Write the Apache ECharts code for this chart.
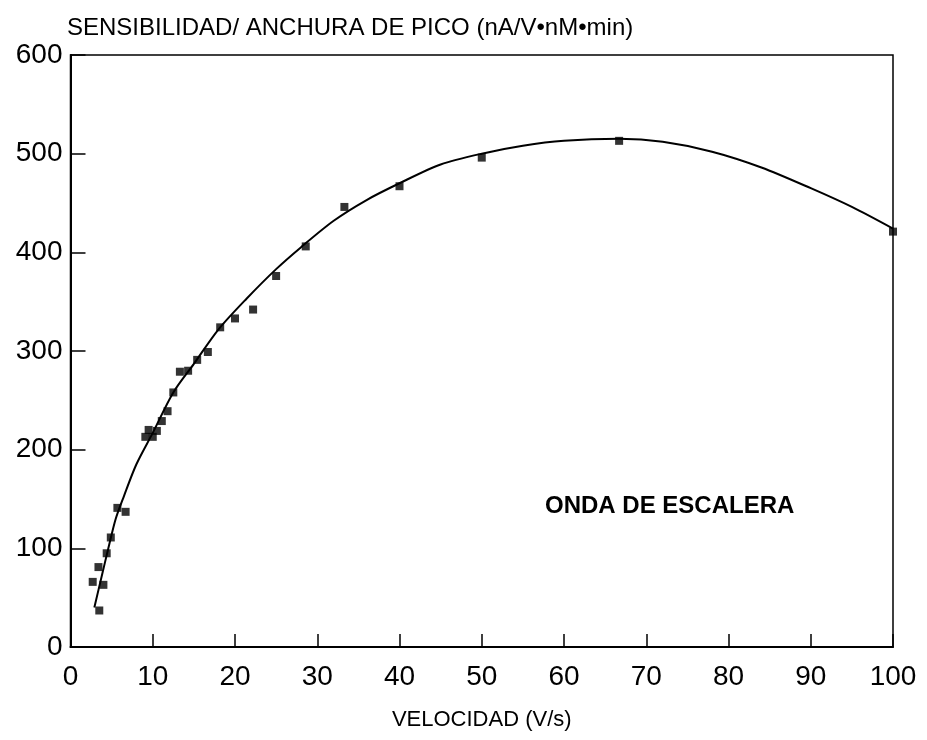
<!DOCTYPE html>
<html>
<head>
<meta charset="utf-8">
<script src="https://cdn.jsdelivr.net/npm/echarts@6/dist/echarts.min.js"></script>
<style>
  html, body { margin: 0; padding: 0; background: #fff; }
  #chart { width: 927px; height: 740px; }
</style>
</head>
<body>
<div id="chart"></div>
<script>
// Measured points: sweep rate (V/s) vs sensitivity / peak width
const velocidad = [100, 66.7, 50, 40, 33.3, 28.6, 25, 22.2, 20, 18.2, 16.7, 15.4, 14.3, 13.3,
                   12.5, 11.8, 11.1, 10.5, 10.0, 9.5, 9.1, 6.7, 5.7, 4.9, 4.4, 3.4, 4.0, 2.7, 3.5];
const sensibilidad = [421, 513, 496, 467, 446, 406, 376, 342, 333, 324, 299, 291, 280, 279,
                      258, 239, 229, 219, 213, 220, 213, 137, 141, 111, 95, 81, 63, 66, 37];

// Fitted trend curve
const curvaX = [2.9, 3.8, 4.6, 5.5, 6.5, 8, 10, 12.5, 15, 18, 21.4, 25, 28, 32, 36, 40, 45, 50,
                55, 60, 66.7, 72, 78, 84, 90, 95, 100];
const curvaY = [40, 72, 100, 130, 153, 185, 217, 258, 287, 322, 353, 383, 405, 432, 453, 470, 489, 500,
                508, 513, 515, 512, 502, 486, 465, 446, 424];

const xTicks = [0, 10, 20, 30, 40, 50, 60, 70, 80, 90, 100];
const yTicks = [0, 100, 200, 300, 400, 500, 600];

const FONT = '"Liberation Sans", Arial, Helvetica, sans-serif';

const chart = echarts.init(document.getElementById('chart'), null, { renderer: 'canvas' });

chart.setOption({
  backgroundColor: '#ffffff',
  animation: false,
  title: {
    text: 'SENSIBILIDAD/ ANCHURA DE PICO (nA/V•nM•min)',
    left: 62,
    top: 11,
    textStyle: { fontFamily: FONT, fontSize: 24, fontWeight: 'normal', color: '#000' }
  },
  grid: {
    left: 70.5, right: 34, top: 55, bottom: 93,
    show: true, borderColor: '#000', borderWidth: 1.5, backgroundColor: 'transparent'
  },
  xAxis: {
    type: 'value',
    min: xTicks[0], max: xTicks[xTicks.length - 1], interval: 10,
    name: 'VELOCIDAD (V/s)',
    nameLocation: 'middle',
    nameGap: 62,
    nameTextStyle: { fontFamily: FONT, fontSize: 22, color: '#000' },
    axisLine: { show: true, lineStyle: { color: '#000', width: 2 } },
    axisTick: { show: true, inside: true, length: 13, lineStyle: { color: '#000', width: 1.5 } },
    axisLabel: { fontFamily: FONT, fontSize: 28, color: '#000', margin: 16 },
    splitLine: { show: false }
  },
  yAxis: {
    type: 'value',
    min: yTicks[0], max: yTicks[yTicks.length - 1], interval: 100,
    axisLine: { show: true, lineStyle: { color: '#000', width: 2 } },
    axisTick: { show: true, inside: true, length: 15, lineStyle: { color: '#000', width: 1.5 } },
    axisLabel: { fontFamily: FONT, fontSize: 28, color: '#000', margin: 8 },
    splitLine: { show: false }
  },
  graphic: [{
    type: 'text',
    left: 545,
    top: 494,
    style: {
      text: 'ONDA DE ESCALERA',
      font: 'bold 24px ' + FONT,
      fill: '#000'
    }
  }],
  series: [
    {
      type: 'line',
      data: curvaX.map((x, i) => [x, curvaY[i]]),
      smooth: 0.3,
      showSymbol: false,
      lineStyle: { color: '#000', width: 2 },
      silent: true,
      z: 2
    },
    {
      type: 'scatter',
      data: velocidad.map((x, i) => [x, sensibilidad[i]]),
      symbol: 'rect',
      symbolSize: 8,
      itemStyle: { color: '#000' },
      z: 3
    }
  ]
});
</script>
</body>
</html>
